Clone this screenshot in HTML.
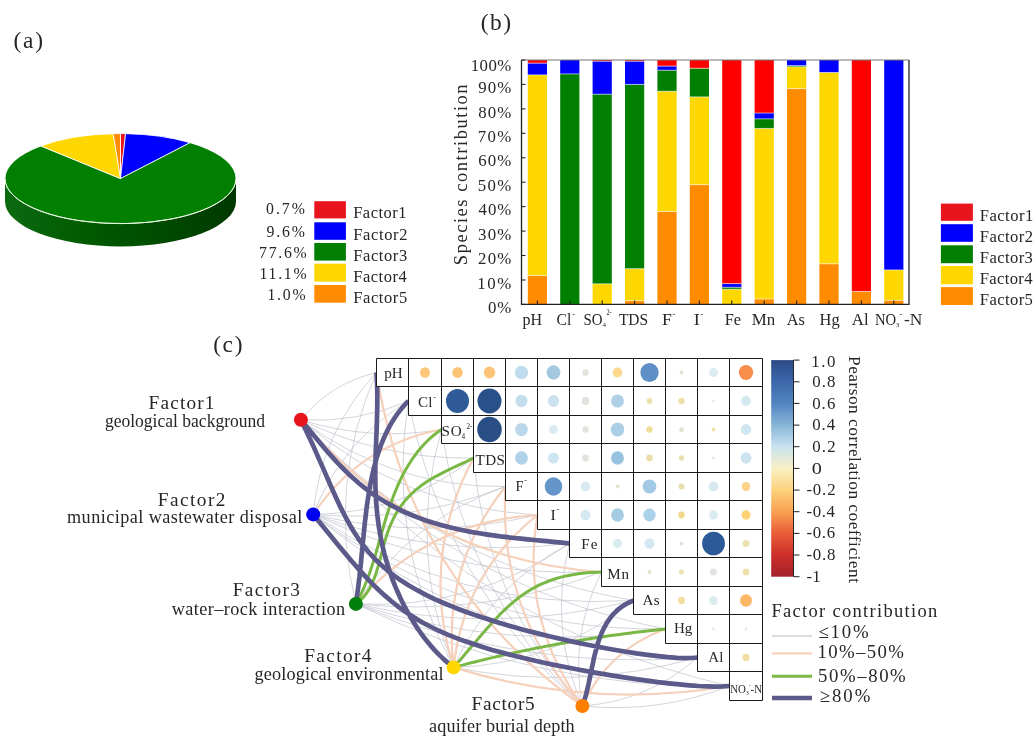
<!DOCTYPE html>
<html><head><meta charset="utf-8"><style>
html,body{margin:0;padding:0;background:#fff;width:1036px;height:737px;overflow:hidden}
svg{display:block;font-family:"Liberation Serif", serif;will-change:transform}
</style></head><body>
<svg width="1036" height="737" viewBox="0 0 1036 737">
<rect width="1036" height="737" fill="#fff"/>
<defs><linearGradient id="side" x1="0" y1="0" x2="1" y2="0"><stop offset="0" stop-color="#0c6a10"/><stop offset="0.35" stop-color="#005a00"/><stop offset="0.7" stop-color="#004a00"/><stop offset="1" stop-color="#003800"/></linearGradient><linearGradient id="cbar" x1="0" y1="0" x2="0" y2="1"><stop offset="0" stop-color="#2c4a86"/><stop offset="0.1" stop-color="#3b68ab"/><stop offset="0.2" stop-color="#5285c0"/><stop offset="0.3" stop-color="#87b5d8"/><stop offset="0.4" stop-color="#c8e3ef"/><stop offset="0.5" stop-color="#f9f0c4"/><stop offset="0.6" stop-color="#fdd17d"/><stop offset="0.7" stop-color="#f9a151"/><stop offset="0.8" stop-color="#e95c38"/><stop offset="0.9" stop-color="#cd2f2a"/><stop offset="1" stop-color="#a3222b"/></linearGradient></defs>
<path d="M5.0,178.6 A115.5,45.0 0 0 0 236.0,178.6 L236.0,201.4 A115.5,45.0 0 0 1 5.0,201.4 Z" fill="url(#side)"/>
<path d="M120.5,178.6 L120.50,133.60 A115.5,45.0 0 0 1 125.58,133.64 Z" fill="#e8141e" stroke="#fff" stroke-width="0.8" stroke-linejoin="round"/>
<path d="M120.5,178.6 L125.58,133.64 A115.5,45.0 0 0 1 190.14,142.70 Z" fill="#0000ff" stroke="#fff" stroke-width="0.8" stroke-linejoin="round"/>
<path d="M120.5,178.6 L190.14,142.70 A115.5,45.0 0 1 1 40.91,145.99 Z" fill="#007f00" stroke="#fff" stroke-width="0.8" stroke-linejoin="round"/>
<path d="M120.5,178.6 L40.91,145.99 A115.5,45.0 0 0 1 113.25,133.69 Z" fill="#ffd700" stroke="#fff" stroke-width="0.8" stroke-linejoin="round"/>
<path d="M120.5,178.6 L113.25,133.69 A115.5,45.0 0 0 1 120.50,133.60 Z" fill="#ff8c00" stroke="#fff" stroke-width="0.8" stroke-linejoin="round"/>
<path d="M5.0,178.6 A115.5,45.0 0 0 0 236.0,178.6" fill="none" stroke="#e8f5e0" stroke-width="1"/>
<rect x="314.3" y="201.2" width="31.6" height="17.2" fill="#e8141e"/>
<text x="265.97" y="214.30" font-size="15.79" textLength="38.95" lengthAdjust="spacing" fill="#262626" >0.7%</text>
<text x="353.21" y="218.40" font-size="16.49" textLength="53.28" lengthAdjust="spacing" fill="#262626" >Factor1</text>
<rect x="314.3" y="222.3" width="31.6" height="17.5" fill="#0000ff"/>
<text x="266.43" y="236.90" font-size="15.79" textLength="38.50" lengthAdjust="spacing" fill="#262626" >9.6%</text>
<text x="353.21" y="239.80" font-size="16.49" textLength="54.20" lengthAdjust="spacing" fill="#262626" >Factor2</text>
<rect x="314.3" y="243.0" width="31.6" height="17.6" fill="#007f00"/>
<text x="259.07" y="257.90" font-size="15.79" textLength="47.55" lengthAdjust="spacing" fill="#262626" >77.6%</text>
<text x="353.21" y="260.60" font-size="16.49" textLength="53.95" lengthAdjust="spacing" fill="#262626" >Factor3</text>
<rect x="314.3" y="263.7" width="31.6" height="17.9" fill="#ffd700"/>
<text x="259.46" y="278.60" font-size="15.79" textLength="47.13" lengthAdjust="spacing" fill="#262626" >11.1%</text>
<text x="353.21" y="281.60" font-size="16.49" textLength="53.54" lengthAdjust="spacing" fill="#262626" >Factor4</text>
<rect x="314.3" y="285.0" width="31.6" height="17.7" fill="#ff8c00"/>
<text x="267.46" y="299.70" font-size="15.79" textLength="38.16" lengthAdjust="spacing" fill="#262626" >1.0%</text>
<text x="353.21" y="302.70" font-size="16.49" textLength="53.95" lengthAdjust="spacing" fill="#262626" >Factor5</text>
<text x="13.45" y="48.00" font-size="23.40" textLength="29.60" lengthAdjust="spacing" fill="#262626" >(a)</text>
<text x="480.85" y="30.30" font-size="23.40" textLength="30.11" lengthAdjust="spacing" fill="#262626" >(b)</text>
<text x="213.15" y="352.30" font-size="23.40" textLength="29.30" lengthAdjust="spacing" fill="#262626" >(c)</text>
<rect x="527.8" y="275.56" width="19.2" height="28.84" fill="#ff8c00"/>
<rect x="527.8" y="74.91" width="19.2" height="200.65" fill="#ffd700"/>
<rect x="527.8" y="63.18" width="19.2" height="11.73" fill="#0000ff"/>
<rect x="527.8" y="60.00" width="19.2" height="3.18" fill="#ff0000"/>
<rect x="560.2" y="73.93" width="19.2" height="230.47" fill="#007f00"/>
<rect x="560.2" y="60.00" width="19.2" height="13.93" fill="#0000ff"/>
<rect x="592.6" y="283.87" width="19.2" height="20.53" fill="#ffd700"/>
<rect x="592.6" y="94.22" width="19.2" height="189.65" fill="#007f00"/>
<rect x="592.6" y="61.22" width="19.2" height="32.99" fill="#0000ff"/>
<rect x="592.6" y="60.00" width="19.2" height="1.22" fill="#ff0000"/>
<rect x="625.0" y="300.73" width="19.2" height="3.67" fill="#ff8c00"/>
<rect x="625.0" y="268.72" width="19.2" height="32.02" fill="#ffd700"/>
<rect x="625.0" y="84.44" width="19.2" height="184.28" fill="#007f00"/>
<rect x="625.0" y="61.22" width="19.2" height="23.22" fill="#0000ff"/>
<rect x="625.0" y="60.00" width="19.2" height="1.22" fill="#ff0000"/>
<rect x="657.4" y="211.53" width="19.2" height="92.87" fill="#ff8c00"/>
<rect x="657.4" y="91.28" width="19.2" height="120.24" fill="#ffd700"/>
<rect x="657.4" y="70.26" width="19.2" height="21.02" fill="#007f00"/>
<rect x="657.4" y="66.11" width="19.2" height="4.15" fill="#0000ff"/>
<rect x="657.4" y="60.00" width="19.2" height="6.11" fill="#ff0000"/>
<rect x="689.8" y="184.64" width="19.2" height="119.76" fill="#ff8c00"/>
<rect x="689.8" y="96.90" width="19.2" height="87.74" fill="#ffd700"/>
<rect x="689.8" y="68.31" width="19.2" height="28.59" fill="#007f00"/>
<rect x="689.8" y="60.00" width="19.2" height="8.31" fill="#ff0000"/>
<rect x="722.2" y="289.25" width="19.2" height="15.15" fill="#ffd700"/>
<rect x="722.2" y="287.29" width="19.2" height="1.96" fill="#007f00"/>
<rect x="722.2" y="283.63" width="19.2" height="3.67" fill="#0000ff"/>
<rect x="722.2" y="60.00" width="19.2" height="223.63" fill="#ff0000"/>
<rect x="754.6" y="299.02" width="19.2" height="5.38" fill="#ff8c00"/>
<rect x="754.6" y="128.43" width="19.2" height="170.59" fill="#ffd700"/>
<rect x="754.6" y="118.90" width="19.2" height="9.53" fill="#007f00"/>
<rect x="754.6" y="113.03" width="19.2" height="5.87" fill="#0000ff"/>
<rect x="754.6" y="60.00" width="19.2" height="53.03" fill="#ff0000"/>
<rect x="787.0" y="88.59" width="19.2" height="215.81" fill="#ff8c00"/>
<rect x="787.0" y="66.84" width="19.2" height="21.75" fill="#ffd700"/>
<rect x="787.0" y="65.62" width="19.2" height="1.22" fill="#007f00"/>
<rect x="787.0" y="60.00" width="19.2" height="5.62" fill="#0000ff"/>
<rect x="819.4" y="263.83" width="19.2" height="40.57" fill="#ff8c00"/>
<rect x="819.4" y="72.46" width="19.2" height="191.37" fill="#ffd700"/>
<rect x="819.4" y="60.00" width="19.2" height="12.46" fill="#0000ff"/>
<rect x="851.8" y="291.45" width="19.2" height="12.95" fill="#ff8c00"/>
<rect x="851.8" y="60.00" width="19.2" height="231.45" fill="#ff0000"/>
<rect x="884.2" y="300.25" width="19.2" height="4.15" fill="#ff8c00"/>
<rect x="884.2" y="269.94" width="19.2" height="30.31" fill="#ffd700"/>
<rect x="884.2" y="60.00" width="19.2" height="209.94" fill="#0000ff"/>
<path d="M527.8,275.56 h19.2 M527.8,74.91 h19.2 M527.8,63.18 h19.2 M560.2,73.93 h19.2 M592.6,283.87 h19.2 M592.6,94.22 h19.2 M592.6,61.22 h19.2 M625.0,300.73 h19.2 M625.0,268.72 h19.2 M625.0,84.44 h19.2 M625.0,61.22 h19.2 M657.4,211.53 h19.2 M657.4,91.28 h19.2 M657.4,70.26 h19.2 M657.4,66.11 h19.2 M689.8,184.64 h19.2 M689.8,96.90 h19.2 M689.8,68.31 h19.2 M722.2,289.25 h19.2 M722.2,287.29 h19.2 M722.2,283.63 h19.2 M754.6,299.02 h19.2 M754.6,128.43 h19.2 M754.6,118.90 h19.2 M754.6,113.03 h19.2 M787.0,88.59 h19.2 M787.0,66.84 h19.2 M787.0,65.62 h19.2 M819.4,263.83 h19.2 M819.4,72.46 h19.2 M851.8,291.45 h19.2 M884.2,300.25 h19.2 M884.2,269.94 h19.2" stroke="#fff" stroke-width="0.7" stroke-opacity="0.8"/>
<path d="M521.5,60.0 H909.0" stroke="#777" stroke-width="1.1"/>
<path d="M521.5,60.0 V304.4 H909.0 V60.0" fill="none" stroke="#222" stroke-width="1.3"/>
<line x1="521.5" y1="304.4" x2="525.5" y2="304.4" stroke="#222" stroke-width="1.1"/>
<text x="487.93" y="313.10" font-size="16.84" textLength="23.43" lengthAdjust="spacing" fill="#262626" >0%</text>
<line x1="521.5" y1="280.0" x2="525.5" y2="280.0" stroke="#222" stroke-width="1.1"/>
<text x="477.37" y="288.66" font-size="16.84" textLength="33.99" lengthAdjust="spacing" fill="#262626" >10%</text>
<line x1="521.5" y1="255.5" x2="525.5" y2="255.5" stroke="#222" stroke-width="1.1"/>
<text x="478.04" y="264.22" font-size="16.84" textLength="33.31" lengthAdjust="spacing" fill="#262626" >20%</text>
<line x1="521.5" y1="231.1" x2="525.5" y2="231.1" stroke="#222" stroke-width="1.1"/>
<text x="478.04" y="239.78" font-size="16.84" textLength="33.31" lengthAdjust="spacing" fill="#262626" >30%</text>
<line x1="521.5" y1="206.6" x2="525.5" y2="206.6" stroke="#222" stroke-width="1.1"/>
<text x="478.46" y="215.34" font-size="16.84" textLength="32.89" lengthAdjust="spacing" fill="#262626" >40%</text>
<line x1="521.5" y1="182.2" x2="525.5" y2="182.2" stroke="#222" stroke-width="1.1"/>
<text x="477.79" y="190.90" font-size="16.84" textLength="33.57" lengthAdjust="spacing" fill="#262626" >50%</text>
<line x1="521.5" y1="157.8" x2="525.5" y2="157.8" stroke="#222" stroke-width="1.1"/>
<text x="478.13" y="166.46" font-size="16.84" textLength="33.23" lengthAdjust="spacing" fill="#262626" >60%</text>
<line x1="521.5" y1="133.3" x2="525.5" y2="133.3" stroke="#222" stroke-width="1.1"/>
<text x="477.71" y="142.02" font-size="16.84" textLength="33.65" lengthAdjust="spacing" fill="#262626" >70%</text>
<line x1="521.5" y1="108.9" x2="525.5" y2="108.9" stroke="#222" stroke-width="1.1"/>
<text x="478.13" y="117.58" font-size="16.84" textLength="33.23" lengthAdjust="spacing" fill="#262626" >80%</text>
<line x1="521.5" y1="84.4" x2="525.5" y2="84.4" stroke="#222" stroke-width="1.1"/>
<text x="478.29" y="93.14" font-size="16.84" textLength="33.06" lengthAdjust="spacing" fill="#262626" >90%</text>
<line x1="521.5" y1="60.0" x2="525.5" y2="60.0" stroke="#222" stroke-width="1.1"/>
<text x="470.77" y="71.00" font-size="16.84" textLength="40.59" lengthAdjust="spacing" fill="#262626" >100%</text>
<line x1="537.4" y1="304.4" x2="537.4" y2="300.4" stroke="#222" stroke-width="1.1"/>
<line x1="569.8" y1="304.4" x2="569.8" y2="300.4" stroke="#222" stroke-width="1.1"/>
<line x1="602.2" y1="304.4" x2="602.2" y2="300.4" stroke="#222" stroke-width="1.1"/>
<line x1="634.6" y1="304.4" x2="634.6" y2="300.4" stroke="#222" stroke-width="1.1"/>
<line x1="667.0" y1="304.4" x2="667.0" y2="300.4" stroke="#222" stroke-width="1.1"/>
<line x1="699.4" y1="304.4" x2="699.4" y2="300.4" stroke="#222" stroke-width="1.1"/>
<line x1="731.8" y1="304.4" x2="731.8" y2="300.4" stroke="#222" stroke-width="1.1"/>
<line x1="764.2" y1="304.4" x2="764.2" y2="300.4" stroke="#222" stroke-width="1.1"/>
<line x1="796.6" y1="304.4" x2="796.6" y2="300.4" stroke="#222" stroke-width="1.1"/>
<line x1="829.0" y1="304.4" x2="829.0" y2="300.4" stroke="#222" stroke-width="1.1"/>
<line x1="861.4" y1="304.4" x2="861.4" y2="300.4" stroke="#222" stroke-width="1.1"/>
<line x1="893.8" y1="304.4" x2="893.8" y2="300.4" stroke="#222" stroke-width="1.1"/>
<text transform="translate(467.0,174.8) rotate(-90)" x="0" y="0" font-size="18.5" text-anchor="middle" textLength="180.8" lengthAdjust="spacing" fill="#262626">Species contribution</text>
<text x="522.46" y="324.60" font-size="17.56" textLength="19.58" lengthAdjust="spacingAndGlyphs" fill="#262626" >pH</text>
<text x="556.47" y="324.60" font-size="17.56" textLength="14.84" lengthAdjust="spacingAndGlyphs" fill="#262626" >Cl</text>
<text x="572.2" y="317.0" font-size="8.5" fill="#262626">-</text>
<text x="583.53" y="324.60" font-size="17.56" textLength="19.01" lengthAdjust="spacingAndGlyphs" fill="#262626" >SO</text>
<text x="602.4" y="327.2" font-size="7" fill="#262626">4</text>
<text x="606.4" y="315.4" font-size="7.5" fill="#262626" textLength="5.2" lengthAdjust="spacingAndGlyphs">2-</text>
<text x="618.89" y="324.60" font-size="17.56" textLength="29.23" lengthAdjust="spacingAndGlyphs" fill="#262626" >TDS</text>
<text x="662.07" y="324.60" font-size="17.56" textLength="9.87" lengthAdjust="spacingAndGlyphs" fill="#262626" >F</text>
<text x="672.4" y="317.0" font-size="8.5" fill="#262626">-</text>
<text x="693.87" y="324.60" font-size="17.56" textLength="6.03" lengthAdjust="spacingAndGlyphs" fill="#262626" >I</text>
<text x="700.4" y="317.0" font-size="8.5" fill="#262626">-</text>
<text x="724.71" y="324.60" font-size="17.56" textLength="16.36" lengthAdjust="spacingAndGlyphs" fill="#262626" >Fe</text>
<text x="751.69" y="324.60" font-size="17.56" textLength="23.44" lengthAdjust="spacingAndGlyphs" fill="#262626" >Mn</text>
<text x="786.64" y="324.60" font-size="17.56" textLength="18.16" lengthAdjust="spacingAndGlyphs" fill="#262626" >As</text>
<text x="819.61" y="324.60" font-size="17.56" textLength="20.06" lengthAdjust="spacingAndGlyphs" fill="#262626" >Hg</text>
<text x="851.83" y="324.60" font-size="17.56" textLength="16.80" lengthAdjust="spacingAndGlyphs" fill="#262626" >Al</text>
<text x="874.96" y="324.60" font-size="17.56" textLength="21.19" lengthAdjust="spacingAndGlyphs" fill="#262626" >NO</text>
<text x="895.8" y="327.2" font-size="7" fill="#262626">3</text>
<text x="899.6" y="317.0" font-size="8.5" fill="#262626">-</text>
<text x="903.99" y="324.60" font-size="17.56" textLength="18.36" lengthAdjust="spacingAndGlyphs" fill="#262626" >-N</text>
<rect x="940.9" y="203.6" width="32" height="17.2" fill="#e8141e"/>
<text x="979.80" y="220.80" font-size="16.64" textLength="53.39" lengthAdjust="spacing" fill="#262626" >Factor1</text>
<rect x="940.9" y="224.2" width="32" height="17.6" fill="#0000ff"/>
<text x="979.80" y="241.80" font-size="16.64" textLength="53.31" lengthAdjust="spacing" fill="#262626" >Factor2</text>
<rect x="940.9" y="245.3" width="32" height="17.9" fill="#007f00"/>
<text x="979.80" y="263.20" font-size="16.64" textLength="53.06" lengthAdjust="spacing" fill="#262626" >Factor3</text>
<rect x="940.9" y="266.0" width="32" height="18.3" fill="#ffd700"/>
<text x="979.80" y="284.30" font-size="16.64" textLength="52.64" lengthAdjust="spacing" fill="#262626" >Factor4</text>
<rect x="940.9" y="287.1" width="32" height="17.9" fill="#ff8c00"/>
<text x="979.80" y="305.00" font-size="16.64" textLength="53.06" lengthAdjust="spacing" fill="#262626" >Factor5</text>
<path d="M300.9,419.8 Q330.7,383.3 376.5,372.5 M313.2,514.4 Q320.7,432.7 376.5,372.5 M355.9,603.9 Q326.9,484.7 376.5,372.5 M300.9,419.8 Q357.0,423.3 408.5,401.0 M313.2,514.4 Q341.6,441.5 408.5,401.0 M453.6,667.4 Q385.8,541.9 408.5,401.0 M582.4,706.0 Q443.6,583.1 408.5,401.0 M300.9,419.8 Q370.0,441.5 441.5,429.5 M453.6,667.4 Q407.1,550.5 441.5,429.5 M582.4,706.0 Q464.9,591.7 441.5,429.5 M300.9,419.8 Q382.6,459.6 473.5,458.0 M313.2,514.4 Q402.9,513.5 473.5,458.0 M582.4,706.0 Q485.8,600.5 473.5,458.0 M300.9,419.8 Q391.9,487.9 505.5,486.5 M313.2,514.4 Q412.7,523.5 505.5,486.5 M355.9,603.9 Q410.7,519.8 505.5,486.5 M300.9,419.8 Q403.0,507.6 537.5,515.0 M313.2,514.4 Q425.3,541.6 537.5,515.0 M313.2,514.4 Q437.9,559.7 569.5,543.5 M355.9,603.9 Q473.0,610.0 569.5,543.5 M453.6,667.4 Q490.5,585.7 569.5,543.5 M582.4,706.0 Q548.3,626.9 569.5,543.5 M313.2,514.4 Q450.4,577.8 601.5,572.0 M355.9,603.9 Q482.5,617.4 601.5,572.0 M582.4,706.0 Q569.2,635.8 601.5,572.0 M300.9,419.8 Q436.5,566.7 633.5,600.5 M313.2,514.4 Q458.7,611.9 633.5,600.5 M355.9,603.9 Q495.1,635.5 633.5,600.5 M453.6,667.4 Q554.9,664.5 633.5,600.5 M300.9,419.8 Q447.6,586.4 665.5,629.0 M313.2,514.4 Q469.9,631.6 665.5,629.0 M355.9,603.9 Q507.7,653.6 665.5,629.0 M313.2,514.4 Q481.0,651.3 697.5,657.5 M355.9,603.9 Q520.3,671.7 697.5,657.5 M453.6,667.4 Q576.7,691.7 697.5,657.5 M582.4,706.0 Q648.2,701.3 697.5,657.5 M300.9,419.8 Q469.9,625.8 729.5,686.0 M355.9,603.9 Q532.8,689.8 729.5,686.0 M582.4,706.0 Q658.4,713.7 729.5,686.0" fill="none" stroke="#b9bcc7" stroke-width="0.7" stroke-opacity="0.9" stroke-linecap="butt" stroke-linejoin="round"/>
<path d="M582.4,706.0 Q409.4,582.5 376.5,372.5 M313.2,514.4 Q359.5,445.0 441.5,429.5 M453.6,667.4 Q419.6,558.5 473.5,458.0 M453.6,667.4 Q441.6,566.1 505.5,486.5 M582.4,706.0 Q497.9,612.4 505.5,486.5 M355.9,603.9 Q428.0,521.3 537.5,515.0 M453.6,667.4 Q463.5,573.6 537.5,515.0 M582.4,706.0 Q519.8,619.9 537.5,515.0 M300.9,419.8 Q419.2,559.0 601.5,572.0 M582.4,706.0 Q607.8,650.0 665.5,629.0 M453.6,667.4 Q589.3,709.8 729.5,686.0" fill="none" stroke="#f5d0bb" stroke-width="2.2" stroke-opacity="1" stroke-linecap="butt" stroke-linejoin="round"/>
<path d="M355.9,603.9 L358.0,600.0 L360.0,596.2 L361.8,592.3 L363.6,588.4 L365.2,584.5 L366.8,580.6 L368.3,576.7 L369.7,572.8 L371.0,568.9 L372.3,564.9 L373.6,560.9 L374.8,557.0 L376.0,553.0 L377.1,549.0 L378.3,545.0 L379.4,541.0 L380.6,536.9 L381.7,532.9 L382.9,528.9 L384.0,524.8 L385.2,520.8 L386.4,516.8 L387.7,512.7 L389.0,508.7 L390.4,504.7 L391.8,500.7 L393.2,496.8 L394.8,492.8 L396.4,488.9 L398.0,485.0 L399.8,481.2 L401.6,477.4 L403.5,473.6 L405.5,469.9 L407.7,466.3 L409.9,462.7 L412.2,459.2 L414.6,455.8 L417.1,452.4 L419.7,449.2 L422.5,446.0 L425.3,443.0 L428.3,440.0 L431.4,437.2 L434.7,434.5 L438.0,431.9 L441.5,429.5 M355.9,603.9 L359.4,601.2 L362.5,598.2 L365.3,595.0 L367.7,591.6 L369.8,588.0 L371.7,584.3 L373.4,580.5 L374.9,576.5 L376.3,572.5 L377.5,568.4 L378.7,564.3 L379.8,560.1 L380.9,556.0 L382.0,551.8 L383.1,547.6 L384.2,543.5 L385.4,539.4 L386.7,535.3 L388.0,531.3 L389.5,527.4 L391.1,523.6 L392.8,519.8 L394.6,516.2 L396.6,512.6 L398.8,509.1 L401.1,505.8 L403.5,502.6 L406.1,499.4 L408.9,496.4 L411.8,493.5 L414.9,490.7 L418.1,488.1 L421.4,485.5 L424.9,483.1 L428.4,480.7 L432.1,478.5 L435.9,476.3 L439.7,474.3 L443.6,472.3 L447.5,470.4 L451.4,468.5 L455.3,466.7 L459.1,464.9 L462.9,463.2 L466.6,461.5 L470.1,459.7 L473.5,458.0 M453.6,667.4 L456.7,663.9 L459.7,660.4 L462.7,657.0 L465.5,653.6 L468.4,650.2 L471.1,647.0 L473.9,643.8 L476.6,640.6 L479.2,637.5 L481.8,634.4 L484.4,631.5 L487.0,628.5 L489.5,625.7 L492.0,622.9 L494.6,620.1 L497.1,617.4 L499.6,614.8 L502.1,612.3 L504.7,609.8 L507.2,607.4 L509.8,605.1 L512.4,602.8 L515.1,600.6 L517.7,598.5 L520.5,596.4 L523.2,594.5 L526.1,592.6 L528.9,590.7 L531.9,589.0 L534.9,587.3 L538.0,585.7 L541.2,584.2 L544.4,582.8 L547.8,581.5 L551.2,580.2 L554.7,579.0 L558.3,577.9 L562.1,576.9 L565.9,576.0 L569.9,575.2 L574.0,574.5 L578.2,573.8 L582.6,573.3 L587.1,572.8 L591.8,572.4 L596.6,572.2 L601.5,572.0 M453.6,667.4 L458.0,666.2 L462.5,665.1 L466.9,663.9 L471.3,662.8 L475.8,661.7 L480.2,660.6 L484.7,659.5 L489.1,658.4 L493.6,657.4 L498.1,656.3 L502.5,655.3 L507.0,654.3 L511.5,653.3 L516.0,652.4 L520.5,651.4 L525.0,650.5 L529.5,649.6 L534.0,648.6 L538.5,647.8 L543.0,646.9 L547.5,646.0 L552.0,645.2 L556.5,644.3 L561.0,643.5 L565.6,642.7 L570.1,642.0 L574.6,641.2 L579.1,640.4 L583.7,639.7 L588.2,639.0 L592.7,638.3 L597.3,637.6 L601.8,636.9 L606.4,636.2 L610.9,635.6 L615.5,635.0 L620.0,634.4 L624.5,633.8 L629.1,633.2 L633.6,632.6 L638.2,632.0 L642.7,631.5 L647.3,631.0 L651.8,630.5 L656.4,630.0 L660.9,629.5 L665.5,629.0" fill="none" stroke="#7ab845" stroke-width="3.0" stroke-opacity="1" stroke-linecap="butt" stroke-linejoin="round"/>
<path d="M453.6,667.4 L448.7,663.5 L443.9,659.4 L439.2,654.9 L434.6,650.1 L430.2,645.1 L426.0,639.9 L421.8,634.5 L417.9,628.9 L414.1,623.1 L410.5,617.2 L407.1,611.2 L403.8,605.0 L400.7,598.8 L397.9,592.5 L395.1,586.1 L392.6,579.7 L390.3,573.3 L388.2,566.8 L386.2,560.3 L384.4,553.8 L382.8,547.2 L381.4,540.7 L380.1,534.2 L379.0,527.7 L378.1,521.2 L377.3,514.7 L376.7,508.3 L376.1,501.8 L375.8,495.4 L375.5,489.0 L375.4,482.5 L375.3,476.1 L375.3,469.7 L375.4,463.2 L375.6,456.7 L375.8,450.2 L376.1,443.7 L376.3,437.1 L376.6,430.4 L376.8,423.6 L377.0,416.7 L377.2,409.8 L377.3,402.7 L377.3,395.4 L377.2,388.0 L376.9,380.3 L376.5,372.5 M355.9,603.9 L356.6,599.3 L357.2,594.7 L357.8,590.2 L358.4,585.7 L358.9,581.2 L359.5,576.7 L359.9,572.2 L360.4,567.7 L360.9,563.3 L361.3,558.8 L361.7,554.4 L362.2,549.9 L362.6,545.4 L363.0,540.9 L363.5,536.5 L363.9,532.0 L364.4,527.5 L364.8,523.0 L365.4,518.4 L365.9,513.9 L366.4,509.4 L367.0,504.9 L367.7,500.3 L368.4,495.8 L369.1,491.3 L369.9,486.7 L370.8,482.2 L371.7,477.7 L372.7,473.2 L373.7,468.7 L374.9,464.3 L376.1,459.8 L377.4,455.5 L378.9,451.1 L380.4,446.8 L382.0,442.5 L383.7,438.3 L385.6,434.2 L387.6,430.1 L389.7,426.1 L391.9,422.2 L394.3,418.4 L396.8,414.7 L399.5,411.1 L402.3,407.6 L405.3,404.2 L408.5,401.0 M300.9,419.8 L305.5,425.4 L310.1,430.8 L314.5,436.2 L318.9,441.5 L323.2,446.7 L327.5,451.7 L331.9,456.6 L336.2,461.4 L340.6,466.0 L345.1,470.5 L349.6,474.9 L354.2,479.1 L358.9,483.2 L363.7,487.1 L368.6,490.9 L373.7,494.5 L378.8,498.0 L384.2,501.3 L389.6,504.4 L395.2,507.4 L400.9,510.3 L406.8,513.0 L412.8,515.5 L418.9,517.9 L425.2,520.2 L431.6,522.3 L438.1,524.2 L444.8,526.0 L451.5,527.7 L458.3,529.3 L465.2,530.7 L472.1,532.1 L479.1,533.3 L486.1,534.4 L493.2,535.4 L500.2,536.4 L507.2,537.2 L514.1,538.0 L520.9,538.7 L527.7,539.4 L534.3,540.0 L540.7,540.6 L547.0,541.2 L553.0,541.8 L558.8,542.3 L564.3,542.9 L569.5,543.5 M582.4,706.0 L583.2,703.8 L584.0,701.5 L584.7,699.1 L585.4,696.7 L586.1,694.3 L586.7,691.9 L587.3,689.4 L587.9,686.8 L588.5,684.3 L589.0,681.7 L589.6,679.1 L590.1,676.5 L590.7,673.8 L591.2,671.2 L591.7,668.6 L592.3,665.9 L592.9,663.2 L593.4,660.6 L594.0,658.0 L594.6,655.3 L595.3,652.7 L596.0,650.1 L596.7,647.5 L597.4,645.0 L598.2,642.4 L599.0,639.9 L599.9,637.5 L600.9,635.0 L601.8,632.7 L602.9,630.3 L604.0,628.0 L605.2,625.8 L606.4,623.6 L607.8,621.4 L609.2,619.4 L610.7,617.4 L612.2,615.4 L613.9,613.6 L615.7,611.8 L617.5,610.0 L619.5,608.4 L621.5,606.9 L623.7,605.4 L626.0,604.0 L628.4,602.8 L630.9,601.6 L633.5,600.5 M300.9,419.8 L307.4,433.4 L313.3,446.1 L318.6,458.1 L323.6,469.4 L328.2,480.0 L332.6,490.0 L336.9,499.5 L341.1,508.4 L345.4,516.8 L349.7,524.7 L354.2,532.2 L358.8,539.3 L363.8,546.1 L369.0,552.5 L374.6,558.7 L380.6,564.5 L387.0,570.1 L393.8,575.4 L401.1,580.6 L408.9,585.5 L417.2,590.2 L425.9,594.8 L435.1,599.3 L444.8,603.5 L455.0,607.7 L465.6,611.7 L476.6,615.6 L488.0,619.3 L499.7,623.0 L511.8,626.5 L524.1,629.9 L536.6,633.1 L549.3,636.3 L562.1,639.2 L574.9,642.1 L587.6,644.7 L600.2,647.2 L612.6,649.5 L624.7,651.5 L636.4,653.4 L647.5,654.9 L658.1,656.2 L667.9,657.2 L676.9,657.8 L684.9,658.1 L691.8,658.0 L697.5,657.5 M313.2,514.4 L322.0,525.2 L330.2,535.3 L337.9,544.8 L345.2,553.6 L352.2,561.8 L358.9,569.4 L365.5,576.6 L371.9,583.3 L378.2,589.5 L384.6,595.4 L390.9,600.8 L397.3,606.0 L403.9,610.8 L410.6,615.3 L417.5,619.6 L424.7,623.7 L432.1,627.5 L439.7,631.1 L447.7,634.6 L455.9,637.9 L464.5,641.1 L473.4,644.1 L482.6,647.0 L492.1,649.9 L501.9,652.6 L512.1,655.3 L522.5,657.8 L533.1,660.3 L544.0,662.7 L555.2,665.1 L566.4,667.3 L577.9,669.5 L589.4,671.6 L601.0,673.6 L612.6,675.6 L624.2,677.4 L635.7,679.1 L647.0,680.6 L658.0,682.1 L668.8,683.3 L679.3,684.4 L689.2,685.3 L698.7,686.0 L707.5,686.4 L715.7,686.6 L723.0,686.4 L729.5,686.0" fill="none" stroke="#5b5a8a" stroke-width="4.7" stroke-opacity="1" stroke-linecap="butt" stroke-linejoin="round"/>
<circle cx="300.9" cy="419.8" r="7" fill="#e8141e"/>
<circle cx="313.2" cy="514.4" r="7" fill="#0000f0"/>
<circle cx="355.9" cy="603.9" r="7" fill="#007f0e"/>
<circle cx="453.6" cy="667.4" r="7" fill="#ffd700"/>
<circle cx="582.4" cy="706.0" r="7" fill="#ff8000"/>
<rect x="376.5" y="358.5" width="386.0" height="28.0" fill="#fff"/>
<rect x="408.5" y="386.5" width="354.0" height="29.0" fill="#fff"/>
<rect x="441.5" y="415.5" width="321.0" height="28.0" fill="#fff"/>
<rect x="473.5" y="443.5" width="289.0" height="29.0" fill="#fff"/>
<rect x="505.5" y="472.5" width="257.0" height="28.0" fill="#fff"/>
<rect x="537.5" y="500.5" width="225.0" height="29.0" fill="#fff"/>
<rect x="569.5" y="529.5" width="193.0" height="28.0" fill="#fff"/>
<rect x="601.5" y="557.5" width="161.0" height="29.0" fill="#fff"/>
<rect x="633.5" y="586.5" width="129.0" height="28.0" fill="#fff"/>
<rect x="665.5" y="614.5" width="97.0" height="29.0" fill="#fff"/>
<rect x="697.5" y="643.5" width="65.0" height="28.0" fill="#fff"/>
<rect x="729.5" y="671.5" width="33.0" height="29.0" fill="#fff"/>
<path d="M376.5,358.5 H762.5 V700.5 H729.5 M376.5,386.5 H762.5 M408.5,415.5 H762.5 M441.5,443.5 H762.5 M473.5,472.5 H762.5 M505.5,500.5 H762.5 M537.5,529.5 H762.5 M569.5,557.5 H762.5 M601.5,586.5 H762.5 M633.5,614.5 H762.5 M665.5,643.5 H762.5 M697.5,671.5 H762.5 M376.5,358.5 V386.5 M408.5,358.5 V415.5 M441.5,358.5 V443.5 M473.5,358.5 V472.5 M505.5,358.5 V500.5 M537.5,358.5 V529.5 M569.5,358.5 V557.5 M601.5,358.5 V586.5 M633.5,358.5 V614.5 M665.5,358.5 V643.5 M697.5,358.5 V671.5 M729.5,358.5 V700.5" fill="none" stroke="#1a1a1a" stroke-width="1.0"/>
<ellipse cx="425.00" cy="372.50" rx="5.00" ry="5.20" fill="#fdc579"/>
<ellipse cx="457.50" cy="372.50" rx="5.25" ry="5.46" fill="#fdc478"/>
<ellipse cx="489.50" cy="372.50" rx="5.65" ry="5.88" fill="#fdc377"/>
<ellipse cx="521.50" cy="372.50" rx="6.60" ry="6.86" fill="#c0dbeb"/>
<ellipse cx="553.50" cy="372.50" rx="6.90" ry="7.18" fill="#a3c8e0"/>
<ellipse cx="585.50" cy="372.50" rx="3.15" ry="3.28" fill="#e1e2d8"/>
<ellipse cx="617.50" cy="372.50" rx="4.80" ry="4.99" fill="#fdd88d"/>
<ellipse cx="649.50" cy="372.50" rx="9.15" ry="9.52" fill="#5e8fc6"/>
<ellipse cx="681.50" cy="372.50" rx="2.00" ry="2.08" fill="#e2e1d6"/>
<ellipse cx="713.50" cy="372.50" rx="4.40" ry="4.58" fill="#dbebf0"/>
<ellipse cx="746.00" cy="372.50" rx="7.15" ry="7.44" fill="#f98e4a"/>
<ellipse cx="457.50" cy="401.00" rx="11.50" ry="11.96" fill="#2f5b98"/>
<ellipse cx="489.50" cy="401.00" rx="12.00" ry="12.48" fill="#2a5089"/>
<ellipse cx="521.50" cy="401.00" rx="5.95" ry="6.19" fill="#c3dded"/>
<ellipse cx="553.50" cy="401.00" rx="5.65" ry="5.88" fill="#cbe1ee"/>
<ellipse cx="585.50" cy="401.00" rx="3.75" ry="3.90" fill="#e2e3dd"/>
<ellipse cx="617.50" cy="401.00" rx="6.35" ry="6.60" fill="#b0d1e5"/>
<ellipse cx="649.50" cy="401.00" rx="2.80" ry="2.91" fill="#ede0a9"/>
<ellipse cx="681.50" cy="401.00" rx="3.20" ry="3.33" fill="#ede0a9"/>
<ellipse cx="713.50" cy="401.00" rx="1.20" ry="1.25" fill="#e2e2e2"/>
<ellipse cx="746.00" cy="401.00" rx="4.80" ry="4.99" fill="#d3e7f1"/>
<ellipse cx="489.50" cy="429.50" rx="12.25" ry="12.74" fill="#294e86"/>
<ellipse cx="521.50" cy="429.50" rx="6.30" ry="6.55" fill="#b9d7e9"/>
<ellipse cx="553.50" cy="429.50" rx="4.40" ry="4.58" fill="#d9eaf2"/>
<ellipse cx="585.50" cy="429.50" rx="3.15" ry="3.28" fill="#e2e3dd"/>
<ellipse cx="617.50" cy="429.50" rx="6.75" ry="7.02" fill="#aacee4"/>
<ellipse cx="649.50" cy="429.50" rx="3.20" ry="3.33" fill="#efdd9b"/>
<ellipse cx="681.50" cy="429.50" rx="2.40" ry="2.50" fill="#e4e2d0"/>
<ellipse cx="713.50" cy="429.50" rx="2.00" ry="2.08" fill="#f0e2ae"/>
<ellipse cx="746.00" cy="429.50" rx="5.20" ry="5.41" fill="#d1e6f0"/>
<ellipse cx="521.50" cy="458.00" rx="6.40" ry="6.66" fill="#afd2e8"/>
<ellipse cx="553.50" cy="458.00" rx="5.40" ry="5.62" fill="#cee4f0"/>
<ellipse cx="585.50" cy="458.00" rx="3.40" ry="3.54" fill="#e2e3dd"/>
<ellipse cx="617.50" cy="458.00" rx="6.40" ry="6.66" fill="#97c2e0"/>
<ellipse cx="649.50" cy="458.00" rx="3.25" ry="3.38" fill="#ebdea9"/>
<ellipse cx="681.50" cy="458.00" rx="2.60" ry="2.70" fill="#e8e0ae"/>
<ellipse cx="713.50" cy="458.00" rx="1.30" ry="1.35" fill="#e2e2e2"/>
<ellipse cx="746.00" cy="458.00" rx="5.50" ry="5.72" fill="#cde4ee"/>
<ellipse cx="553.50" cy="486.50" rx="8.80" ry="9.15" fill="#6496ca"/>
<ellipse cx="585.50" cy="486.50" rx="4.75" ry="4.94" fill="#d8e9f2"/>
<ellipse cx="617.50" cy="486.50" rx="2.00" ry="2.08" fill="#e4e2d0"/>
<ellipse cx="649.50" cy="486.50" rx="6.85" ry="7.12" fill="#a2cae4"/>
<ellipse cx="681.50" cy="486.50" rx="2.95" ry="3.07" fill="#ebdfa9"/>
<ellipse cx="713.50" cy="486.50" rx="4.90" ry="5.10" fill="#d6e8f0"/>
<ellipse cx="746.00" cy="486.50" rx="4.25" ry="4.42" fill="#fcd287"/>
<ellipse cx="585.50" cy="515.00" rx="5.05" ry="5.25" fill="#d6e8f1"/>
<ellipse cx="617.50" cy="515.00" rx="6.40" ry="6.66" fill="#a6cce4"/>
<ellipse cx="649.50" cy="515.00" rx="6.20" ry="6.45" fill="#abd1e8"/>
<ellipse cx="681.50" cy="515.00" rx="3.25" ry="3.38" fill="#f2d88d"/>
<ellipse cx="713.50" cy="515.00" rx="4.55" ry="4.73" fill="#dbecf0"/>
<ellipse cx="746.00" cy="515.00" rx="4.55" ry="4.73" fill="#fdd274"/>
<ellipse cx="617.50" cy="543.50" rx="4.45" ry="4.63" fill="#d8ebee"/>
<ellipse cx="649.50" cy="543.50" rx="4.95" ry="5.15" fill="#d3e8f0"/>
<ellipse cx="681.50" cy="543.50" rx="2.00" ry="2.08" fill="#e2e2e2"/>
<ellipse cx="713.50" cy="543.50" rx="11.40" ry="11.86" fill="#2c5a98"/>
<ellipse cx="746.00" cy="543.50" rx="3.45" ry="3.59" fill="#ede1ae"/>
<ellipse cx="649.50" cy="572.00" rx="2.00" ry="2.08" fill="#e4e2d0"/>
<ellipse cx="681.50" cy="572.00" rx="2.50" ry="2.60" fill="#ebe2b5"/>
<ellipse cx="713.50" cy="572.00" rx="3.45" ry="3.59" fill="#e2e2e2"/>
<ellipse cx="746.00" cy="572.00" rx="3.45" ry="3.59" fill="#ede1ae"/>
<ellipse cx="681.50" cy="600.50" rx="3.50" ry="3.64" fill="#f1dea0"/>
<ellipse cx="713.50" cy="600.50" rx="4.25" ry="4.42" fill="#dbebee"/>
<ellipse cx="746.00" cy="600.50" rx="5.95" ry="6.19" fill="#fbb667"/>
<ellipse cx="713.50" cy="629.00" rx="1.30" ry="1.35" fill="#e2e2e2"/>
<ellipse cx="746.00" cy="629.00" rx="1.30" ry="1.35" fill="#e2e2e2"/>
<ellipse cx="746.00" cy="657.50" rx="3.50" ry="3.64" fill="#f0dda0"/>
<text x="384.27" y="377.60" font-size="15.11" textLength="18.44" lengthAdjust="spacingAndGlyphs" fill="#262626" >pH</text>
<text x="418.10" y="407.30" font-size="15.11" textLength="14.40" lengthAdjust="spacing" fill="#262626" >Cl</text>
<text x="433.3" y="399.8" font-size="8" fill="#262626">-</text>
<text x="441.42" y="436.10" font-size="15.11" textLength="20.34" lengthAdjust="spacing" fill="#262626" >SO</text>
<text x="461.5" y="439.4" font-size="7.2" fill="#262626">4</text>
<text x="466.4" y="429.0" font-size="7.2" fill="#262626" textLength="6" lengthAdjust="spacingAndGlyphs">2-</text>
<text x="475.60" y="464.70" font-size="15.11" textLength="29.30" lengthAdjust="spacing" fill="#262626" >TDS</text>
<text x="515.57" y="490.70" font-size="15.11" textLength="7.95" lengthAdjust="spacingAndGlyphs" fill="#262626" >F</text>
<text x="524.2" y="483.4" font-size="8" fill="#262626">-</text>
<text x="550.45" y="519.90" font-size="15.11" textLength="5.28" lengthAdjust="spacingAndGlyphs" fill="#262626" >I</text>
<text x="556.4" y="512.4" font-size="8" fill="#262626">-</text>
<text x="581.15" y="549.30" font-size="15.11" textLength="16.38" lengthAdjust="spacing" fill="#262626" >Fe</text>
<text x="607.15" y="578.50" font-size="15.11" textLength="21.87" lengthAdjust="spacing" fill="#262626" >Mn</text>
<text x="642.45" y="604.50" font-size="15.11" textLength="17.30" lengthAdjust="spacing" fill="#262626" >As</text>
<text x="673.95" y="633.00" font-size="15.11" textLength="18.39" lengthAdjust="spacingAndGlyphs" fill="#262626" >Hg</text>
<text x="708.35" y="661.50" font-size="15.11" textLength="14.95" lengthAdjust="spacingAndGlyphs" fill="#262626" >Al</text>
<text x="730.2" y="693.2" font-size="12.6" fill="#262626" textLength="31.8" lengthAdjust="spacingAndGlyphs">NO<tspan font-size="6.5" dy="2">3</tspan><tspan font-size="6.5" dy="-8">-</tspan><tspan dy="6">-N</tspan></text>
<rect x="771.2" y="360.1" width="22.3" height="216.6" fill="url(#cbar)"/>
<line x1="793.5" y1="360.1" x2="793.5" y2="576.7" stroke="#222" stroke-width="1"/>
<line x1="793.5" y1="360.1" x2="799.5" y2="360.1" stroke="#222" stroke-width="1"/>
<text x="811.37" y="367.00" font-size="16.84" textLength="24.11" lengthAdjust="spacing" fill="#262626" >1.0</text>
<line x1="793.5" y1="381.8" x2="799.5" y2="381.8" stroke="#222" stroke-width="1"/>
<text x="812.13" y="386.86" font-size="16.84" textLength="23.35" lengthAdjust="spacing" fill="#262626" >0.8</text>
<line x1="793.5" y1="403.4" x2="799.5" y2="403.4" stroke="#222" stroke-width="1"/>
<text x="812.13" y="408.52" font-size="16.84" textLength="23.18" lengthAdjust="spacing" fill="#262626" >0.6</text>
<line x1="793.5" y1="425.1" x2="799.5" y2="425.1" stroke="#222" stroke-width="1"/>
<text x="812.13" y="430.18" font-size="16.84" textLength="22.93" lengthAdjust="spacing" fill="#262626" >0.4</text>
<line x1="793.5" y1="446.7" x2="799.5" y2="446.7" stroke="#222" stroke-width="1"/>
<text x="812.13" y="451.84" font-size="16.84" textLength="23.60" lengthAdjust="spacing" fill="#262626" >0.2</text>
<line x1="793.5" y1="468.4" x2="799.5" y2="468.4" stroke="#222" stroke-width="1"/>
<text x="811.79" y="473.50" font-size="16.84" textLength="10.12" lengthAdjust="spacingAndGlyphs" fill="#262626" >0</text>
<line x1="793.5" y1="490.1" x2="799.5" y2="490.1" stroke="#222" stroke-width="1"/>
<text x="806.41" y="495.16" font-size="16.84" textLength="29.18" lengthAdjust="spacing" fill="#262626" >-0.2</text>
<line x1="793.5" y1="511.7" x2="799.5" y2="511.7" stroke="#222" stroke-width="1"/>
<text x="806.41" y="516.82" font-size="16.84" textLength="28.51" lengthAdjust="spacing" fill="#262626" >-0.4</text>
<line x1="793.5" y1="533.4" x2="799.5" y2="533.4" stroke="#222" stroke-width="1"/>
<text x="806.41" y="538.48" font-size="16.84" textLength="28.76" lengthAdjust="spacing" fill="#262626" >-0.6</text>
<line x1="793.5" y1="555.0" x2="799.5" y2="555.0" stroke="#222" stroke-width="1"/>
<text x="806.41" y="560.14" font-size="16.84" textLength="28.93" lengthAdjust="spacing" fill="#262626" >-0.8</text>
<line x1="793.5" y1="576.7" x2="799.5" y2="576.7" stroke="#222" stroke-width="1"/>
<text x="806.41" y="581.80" font-size="16.84" textLength="14.27" lengthAdjust="spacing" fill="#262626" >-1</text>
<text transform="translate(848.5,356) rotate(90)" x="0" y="0" font-size="17.3" textLength="227" lengthAdjust="spacing" fill="#262626">Pearson correlation coefficient</text>
<text x="771.45" y="616.90" font-size="18.47" textLength="165.79" lengthAdjust="spacing" fill="#262626" >Factor contribution</text>
<line x1="772" y1="636" x2="812" y2="636" stroke="#b9bcc7" stroke-width="1"/>
<text x="818.45" y="638.30" font-size="18.80" textLength="50.15" lengthAdjust="spacing" fill="#262626" >≤10%</text>
<line x1="772" y1="653.4" x2="812" y2="653.4" stroke="#f5d0bb" stroke-width="2.2"/>
<text x="817.60" y="658.10" font-size="18.80" textLength="86.38" lengthAdjust="spacing" fill="#262626" >10%–50%</text>
<line x1="772" y1="676.3" x2="812" y2="676.3" stroke="#7ab845" stroke-width="3.0"/>
<text x="818.07" y="682.30" font-size="18.80" textLength="87.71" lengthAdjust="spacing" fill="#262626" >50%–80%</text>
<line x1="772" y1="698" x2="812" y2="698" stroke="#5b5a8a" stroke-width="4.7"/>
<text x="819.65" y="701.80" font-size="18.80" textLength="50.75" lengthAdjust="spacing" fill="#262626" >≥80%</text>
<text x="148.62" y="408.90" font-size="19.30" textLength="65.73" lengthAdjust="spacing" fill="#262626" >Factor1</text>
<text x="104.91" y="427.40" font-size="18.20" textLength="160.18" lengthAdjust="spacingAndGlyphs" fill="#262626" >geological background</text>
<text x="157.82" y="506.30" font-size="19.30" textLength="67.63" lengthAdjust="spacing" fill="#262626" >Factor2</text>
<text x="67.04" y="523.30" font-size="18.20" textLength="235.31" lengthAdjust="spacing" fill="#262626" >municipal wastewater disposal</text>
<text x="232.72" y="595.90" font-size="19.30" textLength="67.14" lengthAdjust="spacing" fill="#262626" >Factor3</text>
<text x="171.70" y="615.00" font-size="18.20" textLength="173.34" lengthAdjust="spacing" fill="#262626" >water–rock interaction</text>
<text x="304.22" y="661.70" font-size="19.30" textLength="67.16" lengthAdjust="spacing" fill="#262626" >Factor4</text>
<text x="254.48" y="680.40" font-size="18.20" textLength="189.10" lengthAdjust="spacing" fill="#262626" >geological environmental</text>
<text x="471.52" y="709.90" font-size="19.30" textLength="63.14" lengthAdjust="spacing" fill="#262626" >Factor5</text>
<text x="429.06" y="732.10" font-size="18.20" textLength="145.62" lengthAdjust="spacing" fill="#262626" >aquifer burial depth</text>
</svg></body></html>
